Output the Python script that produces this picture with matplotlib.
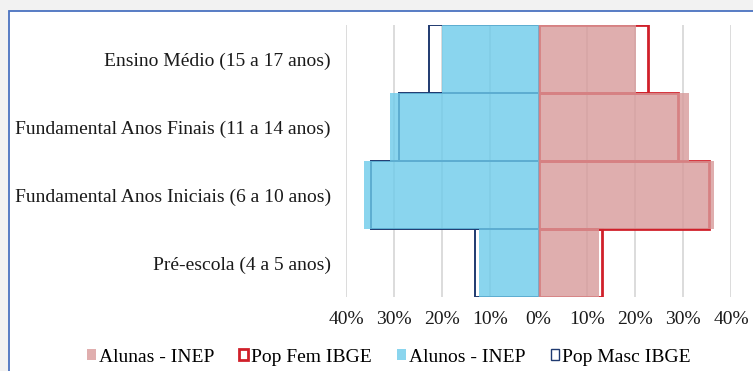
import matplotlib
matplotlib.use("Agg")
import matplotlib.pyplot as plt
from matplotlib.patches import Patch, Rectangle
from matplotlib.ticker import FuncFormatter

categories = [
    "Ensino Médio (15 a 17 anos)",
    "Fundamental Anos Finais (11 a 14 anos)",
    "Fundamental Anos Iniciais (6 a 10 anos)",
    "Pré-escola (4 a 5 anos)",
]
alunos_inep = [20.0, 30.9, 36.3, 12.4]      # male students (%)
pop_masc_ibge = [22.8, 29.0, 34.9, 13.2]    # male population (%)
alunas_inep = [20.2, 31.2, 36.4, 12.5]      # female students (%)
pop_fem_ibge = [22.7, 29.0, 35.4, 13.2]     # female population (%)
xticks = [-40, -30, -20, -10, 0, 10, 20, 30, 40]

plt.rcParams["font.family"] = ["Liberation Serif", "DejaVu Serif"]

W, H = 753, 371
fig = plt.figure(figsize=(W / 100, H / 100), dpi=100)
fig.patch.set_facecolor("#f2f2f2")

# white chart area with blue frame
frame = Rectangle((9 / W, -0.05), 1.1, 1 - 11 / H + 0.05, transform=fig.transFigure,
                  facecolor="white", edgecolor="#4a72c0", linewidth=1.3, zorder=-5)
fig.patches.append(frame)

ax = fig.add_axes([346 / W, 1 - 297 / H, (731 - 346) / W, (297 - 25) / H])
ax.set_facecolor("none")
ax.set_zorder(2)

y = list(range(len(categories)))
neg_masc = [-v for v in pop_masc_ibge]
neg_alunos = [-v for v in alunos_inep]

# population outlines
ax.barh(y, neg_masc, height=1.0, fill=False, edgecolor="#1f3a70", linewidth=1.4, zorder=2)
ax.barh(y, pop_fem_ibge, height=1.0, fill=False, edgecolor="#d0202a", linewidth=2.0, zorder=2)
# enrolment fills (translucent, over the outlines)
ax.barh(y, neg_alunos, height=1.0, color="#6dcbea", alpha=0.8, linewidth=0, zorder=3)
ax.barh(y, alunas_inep, height=1.0, color="#d89a9a", alpha=0.8, linewidth=0, zorder=3)

ax.set_xlim(-40, 40)
ax.set_ylim(len(categories) - 0.5, -0.5)
ax.set_xticks(xticks)
ax.xaxis.set_major_formatter(FuncFormatter(lambda v, p: f"{abs(int(v))}%"))
ax.set_yticks(y)
ax.set_yticklabels(categories)
ax.grid(axis="x", color="#d9d9d9", linewidth=1.3, zorder=1)
ax.set_axisbelow(True)
for s in ax.spines.values():
    s.set_visible(False)
ax.tick_params(axis="both", length=0, labelsize=14, colors="#1a1a1a")
ax.tick_params(axis="x", pad=10)
ax.tick_params(axis="y", pad=11)

handles = [
    Patch(facecolor="#e0aeae", edgecolor="none", label="Alunas - INEP"),
    Patch(facecolor="white", edgecolor="#d0202a", linewidth=2.0, label="Pop Fem IBGE"),
    Patch(facecolor="#8ad5ee", edgecolor="none", label="Alunos - INEP"),
    Patch(facecolor="white", edgecolor="#1f3a70", linewidth=1.0, label="Pop Masc IBGE"),
]
fig.legend(handles=handles, loc="center", bbox_to_anchor=(389 / W, 1 - 357 / H), ncol=4,
           frameon=False, fontsize=14, handlelength=0.45, handleheight=0.45,
           handletextpad=0.15, columnspacing=1.3, borderpad=0.2)

fig.savefig("out.png", dpi=100, facecolor=fig.get_facecolor())
